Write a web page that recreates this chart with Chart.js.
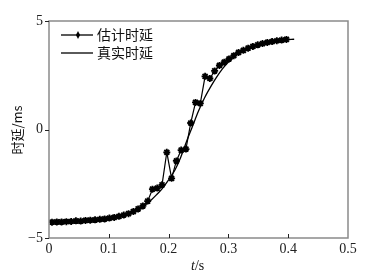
<!DOCTYPE html>
<html>
<head>
<meta charset="utf-8">
<script src="https://cdn.jsdelivr.net/npm/chart.js@4/dist/chart.umd.min.js"></script>
<style>
  html, body { margin: 0; padding: 0; background: #fff; }
  #wrap { position: relative; width: 379px; height: 276px; }
</style>
</head>
<body>
<div id="wrap"><canvas id="c" width="379" height="276"></canvas></div>
<script>
// 估计时延 (带标记) 与 真实时延
const estT = [0.005, 0.013, 0.021, 0.029, 0.037, 0.045, 0.053, 0.061, 0.069, 0.077,
  0.085, 0.093, 0.101, 0.109, 0.117, 0.125, 0.133, 0.141, 0.149, 0.157,
  0.165, 0.173, 0.181, 0.189, 0.197, 0.205, 0.213, 0.221, 0.229, 0.237,
  0.245, 0.253, 0.261, 0.269, 0.277, 0.285, 0.293, 0.301, 0.309, 0.317,
  0.325, 0.333, 0.341, 0.349, 0.357, 0.365, 0.373, 0.381, 0.389, 0.397];
const estDelay = [-4.27, -4.26, -4.26, -4.25, -4.24, -4.21, -4.22, -4.19, -4.18, -4.16,
  -4.14, -4.12, -4.08, -4.05, -4.00, -3.94, -3.88, -3.78, -3.66, -3.52,
  -3.30, -2.75, -2.70, -2.55, -1.05, -2.25, -1.45, -0.95, -0.90, 0.30,
  1.25, 1.20, 2.45, 2.35, 2.70, 2.95, 3.10, 3.25, 3.40, 3.55,
  3.65, 3.75, 3.83, 3.90, 3.96, 4.01, 4.05, 4.09, 4.12, 4.15];

const trueT = [0, 0.01, 0.02, 0.03, 0.04, 0.05, 0.06, 0.07, 0.08, 0.09,
  0.10, 0.11, 0.12, 0.13, 0.14, 0.15, 0.16, 0.17, 0.18, 0.19,
  0.20, 0.21, 0.22, 0.23, 0.24, 0.25, 0.26, 0.27, 0.28, 0.29,
  0.30, 0.31, 0.32, 0.33, 0.34, 0.35, 0.36, 0.37, 0.38, 0.39, 0.40, 0.41];
const trueDelay = [-4.24, -4.24, -4.24, -4.23, -4.23, -4.22, -4.21, -4.20, -4.18, -4.15,
  -4.12, -4.07, -4.01, -3.93, -3.83, -3.69, -3.50, -3.27, -3.00, -2.70,
  -2.32, -1.90, -1.30, -0.55, 0.15, 0.85, 1.45, 1.95, 2.40, 2.79,
  3.11, 3.36, 3.57, 3.72, 3.84, 3.93, 4.00, 4.05, 4.09, 4.12, 4.14, 4.16];

const xTicks = [0, 0.1, 0.2, 0.3, 0.4, 0.5];
const yTicks = [-5, 0, 5];
const legendLabels = ["估计时延", "真实时延"];

const AXIS = "#8a8a8a";
const SERIF = "'Liberation Serif', 'DejaVu Serif', serif";
const CJK = "'Noto Sans CJK SC', 'Noto Sans', sans-serif";

const decor = {
  id: "decor",
  afterDraw(chart) {
    const { ctx, chartArea: a, scales } = chart;
    const xs = scales.x, ys = scales.y;
    ctx.save();
    // 外框
    ctx.strokeStyle = AXIS;
    ctx.lineWidth = 1.5;
    ctx.strokeRect(a.left, a.top, a.right - a.left, a.bottom - a.top);
    // x 轴刻度朝内
    ctx.lineWidth = 1;
    ctx.strokeStyle = "#222";
    xTicks.slice(1, -1).forEach((v) => {
      const px = Math.round(xs.getPixelForValue(v)) + 0.5;
      ctx.beginPath();
      ctx.moveTo(px, a.bottom);
      ctx.lineTo(px, a.bottom - 4);
      ctx.stroke();
    });
    // y 轴刻度朝外
    yTicks.forEach((v) => {
      const py = Math.round(ys.getPixelForValue(v)) + 0.5;
      ctx.beginPath();
      ctx.moveTo(a.left, py);
      ctx.lineTo(a.left - 4, py);
      ctx.stroke();
    });
    // 图例
    const lx0 = 61, lx1 = 93;
    const rows = [35, 53];
    ctx.strokeStyle = "#000";
    ctx.lineWidth = 1.3;
    rows.forEach((y) => {
      ctx.beginPath();
      ctx.moveTo(lx0, y);
      ctx.lineTo(lx1, y);
      ctx.stroke();
    });
    drawMark(ctx, 78, rows[0], 3.5);
    ctx.fillStyle = "#111";
    ctx.font = "14px " + CJK;
    ctx.textBaseline = "middle";
    ctx.textAlign = "left";
    ctx.fillText(legendLabels[0], 97, rows[0]);
    ctx.fillText(legendLabels[1], 97, rows[1]);
    // 轴标题
    ctx.font = "13px " + CJK;
    ctx.save();
    ctx.translate(17, 130);
    ctx.rotate(-Math.PI / 2);
    ctx.textAlign = "center";
    ctx.fillText("时延/ms", 0, 0);
    ctx.restore();
    ctx.textAlign = "left";
    ctx.font = "italic 14px " + SERIF;
    const w1 = ctx.measureText("t").width;
    ctx.fillText("t", 191, 266);
    ctx.font = "14px " + SERIF;
    ctx.fillText("/s", 191 + w1, 266);
    ctx.restore();
  },
};

function drawMark(ctx, x, y, r) {
  ctx.save();
  ctx.fillStyle = "#000";
  ctx.beginPath();
  ctx.moveTo(x, y - r - 0.5);
  ctx.lineTo(x + r * 0.6, y);
  ctx.lineTo(x, y + r + 0.5);
  ctx.lineTo(x - r * 0.6, y);
  ctx.closePath();
  ctx.fill();
  ctx.restore();
}

new Chart(document.getElementById("c"), {
  type: "scatter",
  data: {
    datasets: [
      {
        label: legendLabels[1],
        data: trueT.map((t, i) => ({ x: t, y: trueDelay[i] })),
        showLine: true,
        borderColor: "#000",
        borderWidth: 1.3,
        pointRadius: 0,
        tension: 0.3,
      },
      {
        label: legendLabels[0],
        data: estT.map((t, i) => ({ x: t, y: estDelay[i] })),
        showLine: true,
        borderColor: "#000",
        backgroundColor: "#000",
        borderWidth: 1.2,
        pointStyle: "star",
        pointRadius: 3.5,
        pointBorderWidth: 1.8,
        tension: 0,
      },
    ],
  },
  options: {
    responsive: false,
    animation: false,
    events: [],
    layout: { padding: { top: 21, right: 31, left: 0, bottom: 0 } },
    plugins: { legend: { display: false }, tooltip: { enabled: false } },
    scales: {
      x: {
        type: "linear",
        min: 0,
        max: 0.5,
        afterBuildTicks: (s) => { s.ticks = xTicks.map((v) => ({ value: v })); },
        afterFit: (s) => { s.height = 38; },
        grid: { display: false, drawTicks: false },
        border: { display: false },
        ticks: {
          color: "#222",
          padding: 3,
          maxRotation: 0,
          font: { family: SERIF, size: 14 },
          callback: (v) => String(v),
        },
      },
      y: {
        type: "linear",
        min: -5,
        max: 5,
        afterBuildTicks: (s) => { s.ticks = yTicks.map((v) => ({ value: v })); },
        afterFit: (s) => { s.width = 49; },
        grid: { display: false, drawTicks: false },
        border: { display: false },
        ticks: {
          color: "#222",
          padding: 6,
          font: { family: SERIF, size: 14 },
          callback: (v) => (v < 0 ? "\u2212" + Math.abs(v) : String(v)),
        },
      },
    },
  },
  plugins: [decor],
});
</script>
</body>
</html>
